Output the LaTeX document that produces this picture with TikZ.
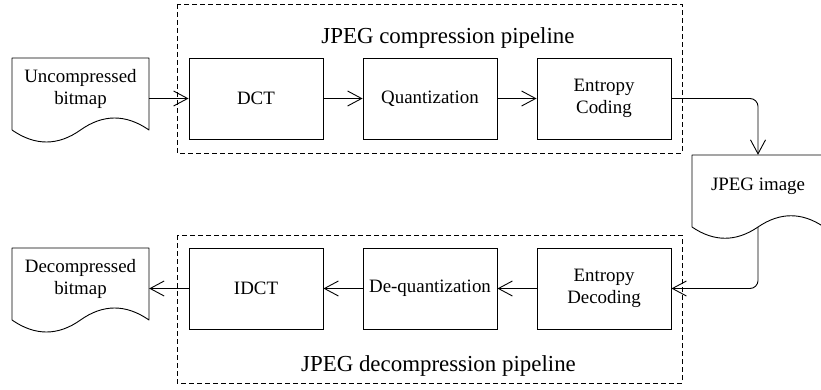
\documentclass[tikz,border=0pt]{standalone}
\usepackage{fontspec}
\setmainfont{Liberation Serif}
\usetikzlibrary{arrows.meta}

\begin{document}
\begin{tikzpicture}[x=1pt,y=-1pt,
  every node/.style={font=\fontsize{18.9}{22}\selectfont, align=center, inner sep=0pt},
  stagebox/.style={draw, line width=0.9pt, minimum width=134pt, minimum height=81pt},
  docarea/.style={minimum width=#1, minimum height=72pt},
  groupbox/.style={draw, line width=0.9pt, dash pattern=on 5pt off 3pt},
  title/.style={font=\fontsize{22.9}{26}\selectfont, anchor=base},
  arr/.style={draw, line width=0.9pt, -{Straight Barb[length=14pt,width=15pt,line width=0.9pt]}},
  docline/.style={draw, line width=0.9pt, line join=round}]

\clip (0,0) rectangle (821,390);

% pipeline frames
\draw[groupbox] (177,4) rectangle (682,153);
\draw[groupbox] (177,235) rectangle (682,383);
\node[title] at (448,44) {JPEG compression pipeline};
\node[title] at (438.5,371) {JPEG decompression pipeline};

% processing stages
\node[stagebox] (dct)   at (256,98.5)  {DCT};
\node[stagebox] (quant) at (430,98.5)  {Quantization};
\node[stagebox] (ec)    at (604,98.5)  {Entropy\\Coding};
\node[stagebox] (idct)  at (256,288.5) {IDCT};
\node[stagebox] (dq)    at (430,288.5) {De-quantization};
\node[stagebox] (ed)    at (604,288.5) {Entropy\\Decoding};

% document shapes (body area as nodes, wavy outline drawn around them)
\node[docarea=137pt] (ubmp) at (80.5,94) {};
\node[docarea=137pt] (dbmp) at (80.5,284) {};
\node[docarea=132pt] (jpeg) at (758,191) {};

\draw[docline] (12,130) -- (12,58) -- (149,58) -- (149,130)
  .. controls (126,114) and (103,114) .. (80.5,130)
  .. controls (58,146) and (35,146) .. (12,130);
\draw[docline] (12,320) -- (12,248) -- (149,248) -- (149,320)
  .. controls (126,304) and (103,304) .. (80.5,320)
  .. controls (58,336) and (35,336) .. (12,320);
\draw[docline] (692,227) -- (692,155) -- (824,155) -- (824,227)
  .. controls (802,212) and (780,212) .. (758,227)
  .. controls (736,242) and (714,242) .. (692,227);

\node (ubmptxt) at (80.5,89) {Uncompressed\\bitmap};
\node (dbmptxt) at (80.5,279) {Decompressed\\bitmap};
\node (jpegtxt) at (758,186) {JPEG image};

% data flow
\draw[arr] (dct.west -| ubmp.east) -- (dct.west);
\draw[arr] (dct.east) -- (quant.west);
\draw[arr] (quant.east) -- (ec.west);
\draw[arr, rounded corners=8pt] (ec.east) -| (jpeg.north);
\draw[arr, rounded corners=8pt] (jpeg.south) |- (ed.east);
\draw[arr] (ed.west) -- (dq.east);
\draw[arr] (dq.west) -- (idct.east);
\draw[arr] (idct.west) -- (idct.west -| dbmp.east);

\end{tikzpicture}
\end{document}
